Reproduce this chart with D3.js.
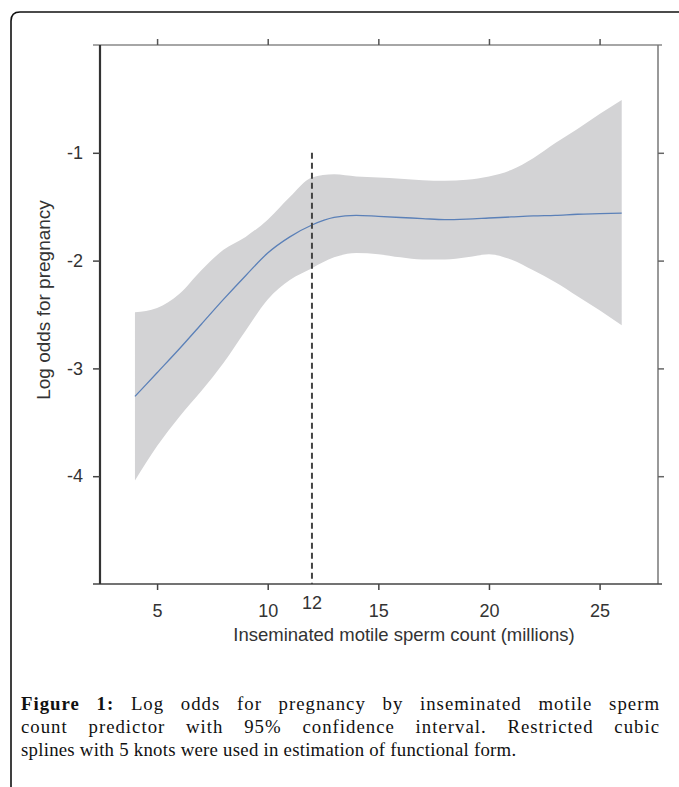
<!DOCTYPE html>
<html>
<head>
<meta charset="utf-8">
<script src="https://cdn.jsdelivr.net/npm/d3@7"></script>
<style>
  body { margin: 0; background: #fff; }
  #wrap { position: relative; width: 679px; height: 787px; overflow: hidden; }
  .cap { position: absolute; left: 21px; width: 639px; font-family: "Liberation Serif", serif; font-size: 18.8px; line-height: 23px; color: #111; white-space: nowrap; letter-spacing: 0.25px; }
  .cap.j { text-align: justify; text-align-last: justify; white-space: normal; letter-spacing: 1px; }
  .axis text { font-family: "Liberation Sans", Arial, sans-serif; font-size: 18px; fill: #333; }
</style>
</head>
<body>
<div id="wrap"></div>
<script>
// values
const xVals   = [4, 5, 6, 7, 8, 9, 10, 11, 12, 13, 14, 15, 16, 17, 18, 19, 20, 21, 22, 23, 24, 25, 26];
const fitVals = [-3.26, -3.04, -2.82, -2.59, -2.36, -2.14, -1.93, -1.78, -1.67, -1.60, -1.58, -1.59, -1.60, -1.61, -1.62, -1.615, -1.605, -1.595, -1.585, -1.58, -1.57, -1.565, -1.56];
const upperCI = [-2.48, -2.44, -2.31, -2.09, -1.90, -1.78, -1.62, -1.41, -1.23, -1.20, -1.22, -1.23, -1.24, -1.255, -1.26, -1.25, -1.22, -1.16, -1.05, -0.91, -0.78, -0.64, -0.51];
const lowerCI = [-4.04, -3.72, -3.45, -3.21, -2.95, -2.65, -2.36, -2.18, -2.07, -1.97, -1.93, -1.94, -1.97, -1.99, -1.99, -1.97, -1.94, -1.99, -2.09, -2.20, -2.33, -2.46, -2.60];
const xTicks = [5, 10, 15, 20, 25];
const yTicks = [-1, -2, -3, -4];
const cutoff = 12;
const captionLines = [
    ["Figure 1:", " Log odds for pregnancy by inseminated motile sperm"],
    ["", "count predictor with 95% confidence interval. Restricted cubic"],
    ["", "splines with 5 knots were used in estimation of functional form."]
];

const W = 679, H = 787;
const wrap = d3.select("#wrap");
const svg = wrap.append("svg").attr("width", W).attr("height", H);

//outer frame (only top and left sides visible)
svg.append("path")
    .attr("d", "M11,787 V21 Q11,12 20,12 H679")
    .attr("fill", "none")
    .attr("stroke", "#111")
    .attr("stroke-width", 1.6);

const x = d3.scaleLinear().domain([2.42, 27.64]).range([100, 658]);
const y = d3.scaleLinear().domain([-5, 0]).range([584, 45]);

const data = xVals.map((v, i) => ({x: v, fit: fitVals[i], lo: lowerCI[i], hi: upperCI[i]}));

//confidence band
svg.append("path")
    .datum(data)
    .attr("fill", "#d3d3d5")
    .attr("d", d3.area()
        .x(d => x(d.x))
        .y0(d => y(d.lo))
        .y1(d => y(d.hi))
        .curve(d3.curveMonotoneX));

//fitted line
svg.append("path")
    .datum(data)
    .attr("fill", "none")
    .attr("stroke", "#5b80b8")
    .attr("stroke-width", 1.3)
    .attr("d", d3.line()
        .x(d => x(d.x))
        .y(d => y(d.fit))
        .curve(d3.curveMonotoneX));

//cutoff line
svg.append("line")
    .attr("x1", x(cutoff)).attr("x2", x(cutoff))
    .attr("y1", y(-1)).attr("y2", y(-5))
    .attr("stroke", "#444")
    .attr("stroke-width", 2)
    .attr("stroke-dasharray", "6,4");

//frame lines
const [x0, x1] = x.range();
const [yb, yt] = y.range();
svg.append("line").attr("x1", x0 - 7).attr("x2", x1 + 4).attr("y1", yt).attr("y2", yt)
    .attr("stroke", "#888").attr("stroke-width", 1.5);
svg.append("line").attr("x1", x1).attr("x2", x1).attr("y1", yt).attr("y2", yb)
    .attr("stroke", "#777").attr("stroke-width", 1.5);
svg.append("line").attr("x1", x0 - 7).attr("x2", x1 + 4).attr("y1", yb).attr("y2", yb)
    .attr("stroke", "#444").attr("stroke-width", 1.6);
svg.append("line").attr("x1", x0).attr("x2", x0).attr("y1", yt).attr("y2", yb)
    .attr("stroke", "#333").attr("stroke-width", 2.2);

//axes
const styleAxis = (g, col) => {
    g.select(".domain").remove();
    g.selectAll(".tick line").attr("stroke", col).attr("stroke-width", 1.5);
};

svg.append("g").attr("class", "axis")
    .attr("transform", `translate(0,${yb})`)
    .call(d3.axisBottom(x).tickValues(xTicks).tickSize(6).tickPadding(14))
    .call(g => styleAxis(g, "#444"));

svg.append("g").attr("class", "axis")
    .attr("transform", `translate(0,${yt})`)
    .call(d3.axisTop(x).tickValues(xTicks).tickSize(6).tickFormat(""))
    .call(g => styleAxis(g, "#555"));

svg.append("g").attr("class", "axis")
    .attr("transform", `translate(${x0},0)`)
    .call(d3.axisLeft(y).tickValues(yTicks).tickSize(7).tickPadding(10).tickFormat(d => String(d)))
    .call(g => styleAxis(g, "#444"));

svg.append("g").attr("class", "axis")
    .attr("transform", `translate(${x1},0)`)
    .call(d3.axisRight(y).tickValues(yTicks).tickSize(6).tickFormat(""))
    .call(g => styleAxis(g, "#666"));

//label for the cutoff under the axis
svg.append("text")
    .attr("x", x(cutoff)).attr("y", yb + 25)
    .attr("text-anchor", "middle")
    .style("font-family", "Liberation Sans, Arial, sans-serif")
    .style("font-size", "18px")
    .attr("fill", "#333")
    .text(cutoff);

//axis titles
svg.append("text")
    .attr("x", 404).attr("y", 641)
    .attr("text-anchor", "middle")
    .style("font-family", "Liberation Sans, Arial, sans-serif")
    .style("font-size", "18.5px")
    .attr("fill", "#333")
    .text("Inseminated motile sperm count (millions)");

svg.append("text")
    .attr("transform", `translate(50,300) rotate(-90)`)
    .attr("text-anchor", "middle")
    .style("font-family", "Liberation Sans, Arial, sans-serif")
    .style("font-size", "19px")
    .attr("fill", "#333")
    .text("Log odds for pregnancy");

//caption
captionLines.forEach((ln, i) => {
    const div = wrap.append("div")
        .attr("class", i < 2 ? "cap j" : "cap")
        .style("top", `${692 + i * 23}px`);
    if (ln[0]) div.append("b").text(ln[0]);
    div.append("span").text(ln[1]);
});
</script>
</body>
</html>
